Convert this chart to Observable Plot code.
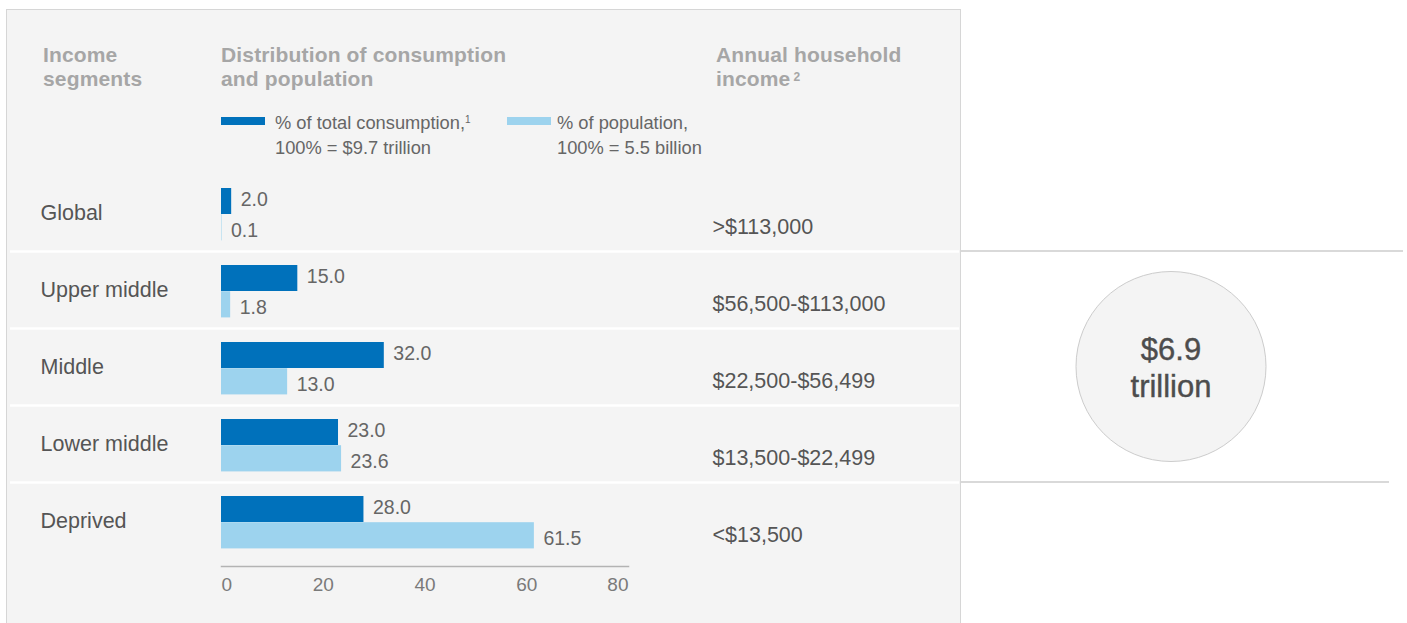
<!DOCTYPE html>
<html>
<head>
<meta charset="utf-8">
<script src="https://cdn.jsdelivr.net/npm/d3@7"></script>
<script src="https://cdn.jsdelivr.net/npm/@observablehq/plot@0.6"></script>
<style>
  html, body { margin: 0; padding: 0; background: #ffffff; }
  body { width: 1407px; height: 623px; overflow: hidden; position: relative; font-family: "Liberation Sans", Arial, Helvetica, sans-serif; }
  #panel { position: absolute; left: 6px; top: 9px; width: 953px; height: 620px; background: #f4f4f4; border: 1px solid #d6d6d6; border-bottom: none; }
  .hdr { position: absolute; top: 43px; font-weight: bold; color: #a6a6a6; font-size: 21px; line-height: 24px; letter-spacing: 0.15px; }
  .hdr sup { font-size: 12px; vertical-align: 5px; line-height: 0; margin-left: 3px; }
  .leg { position: absolute; top: 110px; color: #666; font-size: 18.3px; line-height: 25px; }
  .leg sup { font-size: 10px; vertical-align: 6px; line-height: 0; }
  .sw { position: absolute; top: 117px; width: 44px; height: 8px; }
  #chart { position: absolute; left: 0; top: 0; }
</style>
</head>
<body>
<div id="panel"></div>
<div class="hdr" style="left:43px">Income<br>segments</div>
<div class="hdr" style="left:221px">Distribution of consumption<br>and population</div>
<div class="hdr" style="left:716px">Annual household<br>income<sup>2</sup></div>
<div class="sw" id="sw1" style="left:221px"></div>
<div class="leg" id="leg1" style="left:275px"></div>
<div class="sw" id="sw2" style="left:507px"></div>
<div class="leg" id="leg2" style="left:557px"></div>
<div id="chart"></div>
<script>
// ---- data ----
const segments = ["Global", "Upper middle", "Middle", "Lower middle", "Deprived"];
const consumption = [2.0, 15.0, 32.0, 23.0, 28.0];
const population = [0.1, 1.8, 13.0, 23.6, 61.5];
const incomes = [">$113,000", "$56,500-$113,000", "$22,500-$56,499", "$13,500-$22,499", "<$13,500"];
const xTicks = [0, 20, 40, 60, 80];
const seriesNames = ["% of total consumption,", "% of population,"];
const seriesTotals = ["100% = $9.7 trillion", "100% = 5.5 billion"];
const bracketTotal = ["$6.9", "trillion"];
const colors = ["#0071bb", "#9dd3ee"];

const rows = segments.map((s, i) => ({segment: s, consumption: consumption[i], population: population[i], income: incomes[i]}));

// legend
document.getElementById("sw1").style.background = colors[0];
document.getElementById("sw2").style.background = colors[1];
document.getElementById("leg1").innerHTML = seriesNames[0] + "<sup>1</sup><br>" + seriesTotals[0];
document.getElementById("leg2").innerHTML = seriesNames[1] + "<br>" + seriesTotals[1];

const fmt = d3.format(".1f");
const font = "Liberation Sans, Arial, Helvetica, sans-serif";

const chart = Plot.plot({
  width: 1407,
  height: 623,
  marginLeft: 221,
  marginRight: 779,
  marginTop: 174,
  marginBottom: 57,
  style: {background: "transparent", fontFamily: font, overflow: "visible"},
  x: {domain: [0, 80]},
  y: {domain: segments, range: [174, 560], padding: 0, axis: null},
  marks: [
    Plot.frame({anchor: "bottom", stroke: "#b3b3b3", strokeWidth: 1.5}),
    Plot.axisX([xTicks[0]], {tickSize: 0, tickPadding: 11, textAnchor: "start", fontSize: 19, fill: "#7a7a7a", label: null}),
    Plot.axisX(xTicks.slice(1, -1), {tickSize: 0, tickPadding: 11, textAnchor: "middle", fontSize: 19, fill: "#7a7a7a", label: null}),
    Plot.axisX([xTicks[xTicks.length - 1]], {tickSize: 0, tickPadding: 11, textAnchor: "end", fontSize: 19, fill: "#7a7a7a", label: null}),
    Plot.barX(rows, {y: "segment", x: "consumption", fill: colors[0], insetTop: 13, insetBottom: 38}),
    Plot.barX(rows, {y: "segment", x: "population", fill: colors[1], insetTop: 39.2, insetBottom: 11.6}),
    Plot.text(rows, {y: "segment", x: "consumption", text: d => fmt(d.consumption), textAnchor: "start", dx: 9, dy: -14, fontSize: 19.5, fill: "#666"}),
    Plot.text(rows, {y: "segment", x: "population", text: d => fmt(d.population), textAnchor: "start", dx: 9, dy: 17, fontSize: 19.5, fill: "#666"}),
    Plot.text(rows, {y: "segment", text: "segment", frameAnchor: "left", textAnchor: "start", dx: -181, dy: -1, fontSize: 21.5, fill: "#555"}),
    Plot.text(rows, {y: "segment", text: "income", frameAnchor: "right", textAnchor: "start", dx: 84, dy: 13, fontSize: 21.5, fill: "#555"})
  ]
});
document.getElementById("chart").appendChild(chart);

// row separators and right-hand bracket, positioned with the plot's y scale
const y = chart.scale("y");
const svg = d3.select(chart);
const sep = svg.insert("g", "g");
segments.slice(1).forEach(s => {
  const yy = y.apply(s) - 0.5;
  sep.append("line").attr("x1", 10).attr("x2", 959).attr("y1", yy).attr("y2", yy)
    .attr("stroke", "#ffffff").attr("stroke-width", 2.5);
});
const yTop = y.apply(segments[1]) - 1;
const yBot = y.apply(segments[4]) - 1;
const br = svg.append("g");
br.append("line").attr("x1", 961).attr("x2", 1403).attr("y1", yTop).attr("y2", yTop).attr("stroke", "#cccccc").attr("stroke-width", 1.5);
br.append("line").attr("x1", 961).attr("x2", 1389).attr("y1", yBot).attr("y2", yBot).attr("stroke", "#cccccc").attr("stroke-width", 1.5);
const cy = (yTop + yBot) / 2;
br.append("circle").attr("cx", 1171).attr("cy", cy).attr("r", 95).attr("fill", "#f4f4f4").attr("stroke", "#cccccc").attr("stroke-width", 1);
br.append("text").attr("x", 1171).attr("y", cy - 17).attr("text-anchor", "middle").attr("dy", "0.35em")
  .attr("font-size", 31).attr("fill", "#4d4d4d").attr("font-family", font).attr("stroke", "#4d4d4d").attr("stroke-width", 0.4).text(bracketTotal[0]);
br.append("text").attr("x", 1171).attr("y", cy + 20).attr("text-anchor", "middle").attr("dy", "0.35em")
  .attr("font-size", 31).attr("fill", "#4d4d4d").attr("font-family", font).attr("stroke", "#4d4d4d").attr("stroke-width", 0.4).text(bracketTotal[1]);
</script>
</body>
</html>
